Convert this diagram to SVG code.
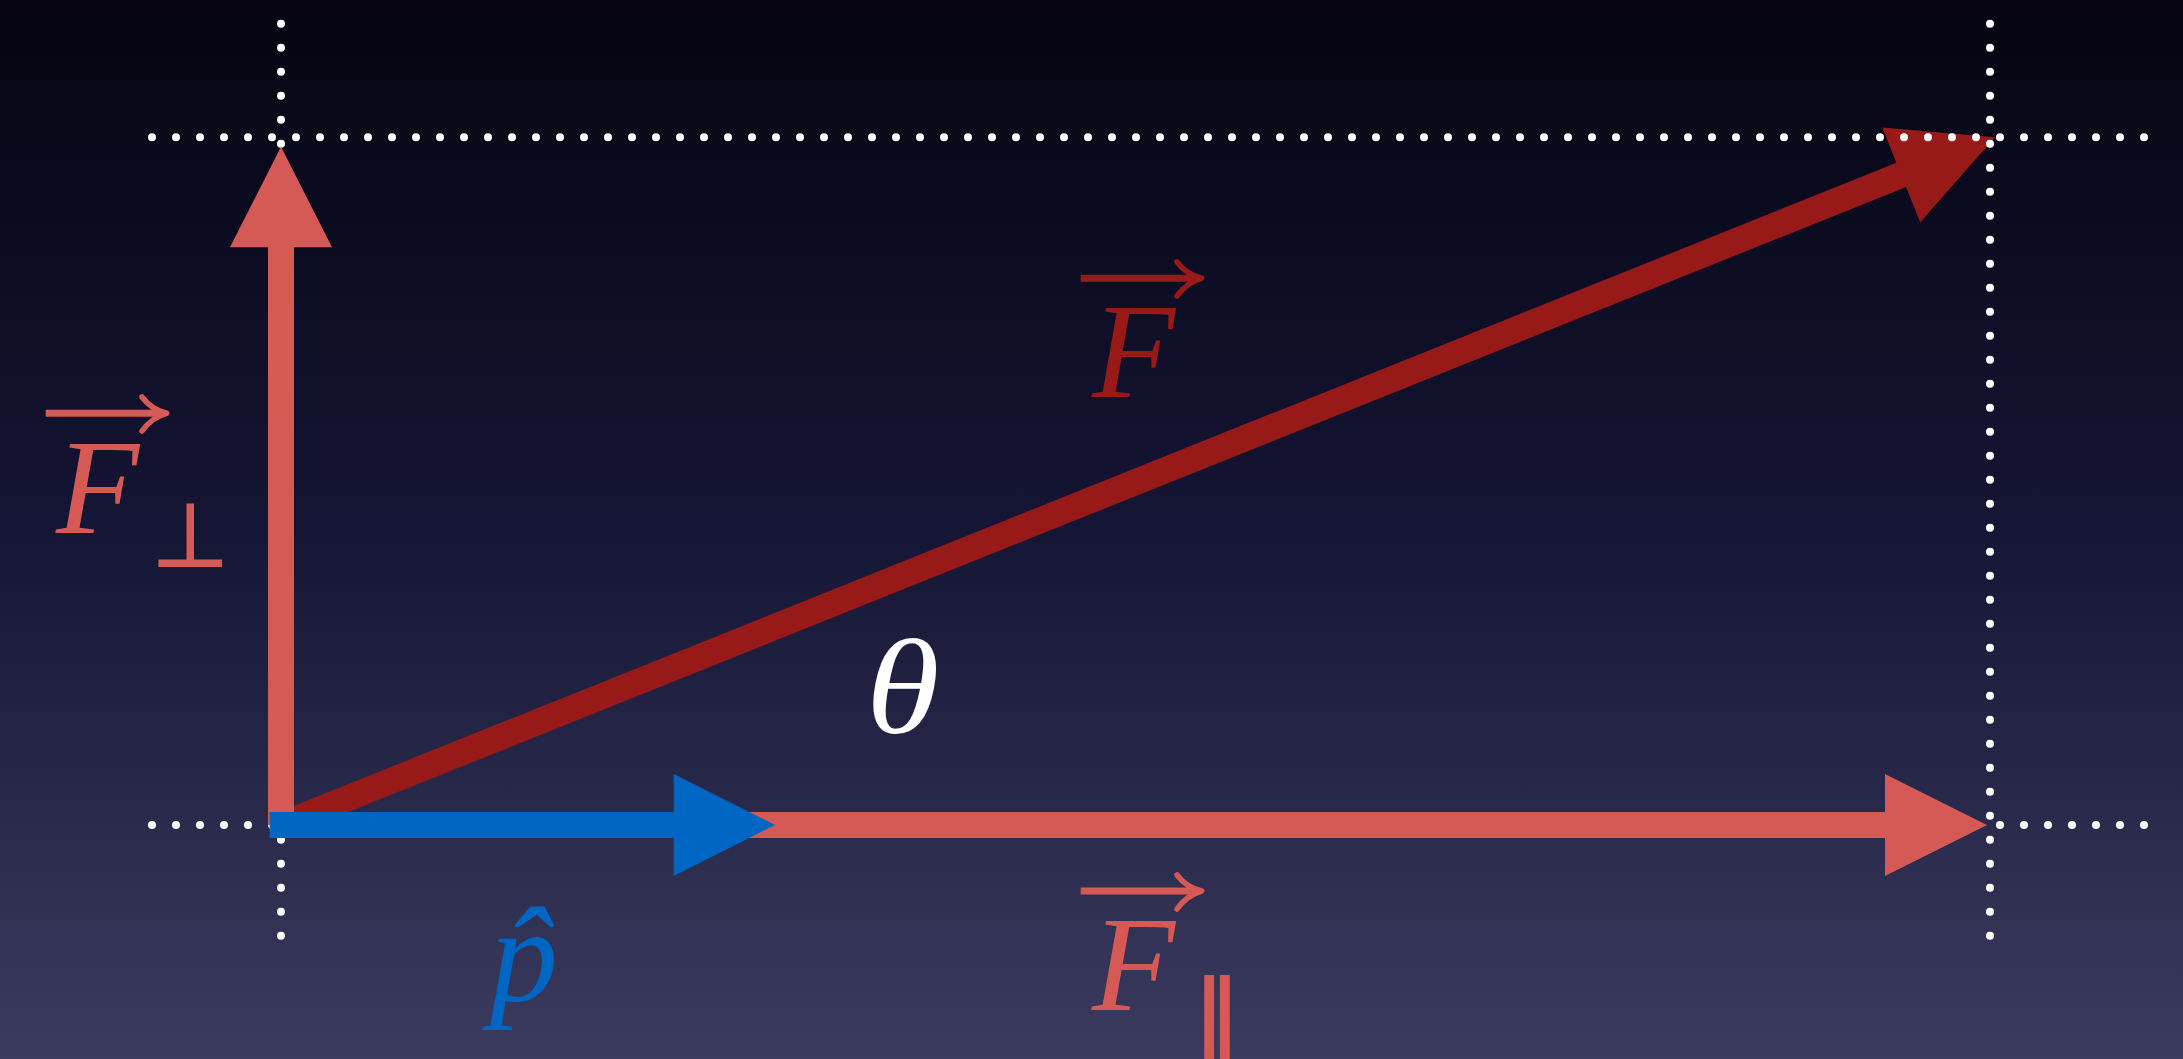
<svg xmlns="http://www.w3.org/2000/svg" width="2183" height="1059" viewBox="0 0 2183 1059">
  <defs>
    <linearGradient id="bg" x1="0" y1="0" x2="0" y2="1">
      <stop offset="0" stop-color="#050410"/>
      <stop offset="0.5" stop-color="#151535"/>
      <stop offset="1" stop-color="#3b3b5f"/>
    </linearGradient>
  </defs>
  <style>
    .dots { stroke: #ffffff; stroke-width: 8; stroke-linecap: round; stroke-dasharray: 0 24; fill: none; }
    .pink { fill: #d55a55; }
    .dark { fill: #971a19; }
    .blue { fill: #0066c4; }
    .lbl { font-family: "Liberation Serif", "Times New Roman", serif; font-style: italic; font-size: 136px; }
    .sym { font-family: "DejaVu Sans", sans-serif; stroke-width: 2; }
    .acc-line { stroke-width: 7; }
    .acc-head { fill: none; stroke-width: 5.5; stroke-linecap: round; stroke-linejoin: round; }
  </style>
  <rect x="0" y="0" width="2183" height="1059" fill="url(#bg)"/>

  <g id="vector-F">
    <polygon class="dark" points="276.16,812.93 1896.42,162.84 1882.27,127.58 1995,137.3 1920.25,222.24 1906.10,186.98 285.84,837.07"/>
  </g>

  <g id="guides">
    <line class="dots" x1="281" y1="23.7" x2="281" y2="936.5"/>
    <line class="dots" x1="1990" y1="23.7" x2="1990" y2="936.5"/>
    <line class="dots" x1="152" y1="137.3" x2="2145" y2="137.3"/>
    <line class="dots" x1="152" y1="825" x2="2145" y2="825"/>
  </g>

  <g id="connectors">
    <polygon id="vector-F-perp" class="pink" points="268,825 268,247.3 230,247.3 281,146.7 332,247.3 294,247.3 294,825"/>
    <polygon id="vector-F-par" class="pink" points="281,812 1885,812 1885,774 1987,825 1885,876 1885,838 281,838"/>
    <polygon id="vector-p" class="blue" points="269.6,812 673.7,812 673.7,774 775,825 673.7,876 673.7,838 269.6,838"/>
  </g>

  <g id="label-F" fill="#971a19" stroke="#971a19">
    <line class="acc-line" x1="1080.7" y1="278.3" x2="1199" y2="278.3"/>
    <path class="acc-head" d="M1177,262 Q1187,275 1201.7,278.3 Q1187,282 1177,296"/>
    <text class="lbl" x="1092" y="396.7" stroke="none">F</text>
  </g>

  <g id="label-F-perp" fill="#d55a55" stroke="#d55a55">
    <line class="acc-line" x1="45.7" y1="413.3" x2="164" y2="413.3"/>
    <path class="acc-head" d="M142,397 Q152,410 166.7,413.3 Q152,417 142,431"/>
    <text class="lbl" x="56" y="532.7" stroke="none">F</text>
    <text class="sym" x="152" y="566" font-size="88">⊥</text>
  </g>

  <g id="label-F-par" fill="#d55a55" stroke="#d55a55">
    <line class="acc-line" x1="1080.7" y1="891" x2="1199" y2="891"/>
    <path class="acc-head" d="M1177,875 Q1187,888 1201.7,891 Q1187,895 1177,909"/>
    <text class="lbl" x="1092" y="1010" stroke="none">F</text>
    <text class="sym" x="1192" y="1053" font-size="100">∥</text>
  </g>

  <g id="label-theta" fill="#ffffff">
    <text class="lbl" x="866" y="733" transform="translate(866 733) scale(1.1 1) translate(-866 -733)">θ</text>
  </g>

  <g id="label-p" fill="#0066c4">
    <text class="lbl" x="490" y="1001">p</text>
    <text class="lbl" x="503" y="1001">ˆ</text>
  </g>
</svg>
